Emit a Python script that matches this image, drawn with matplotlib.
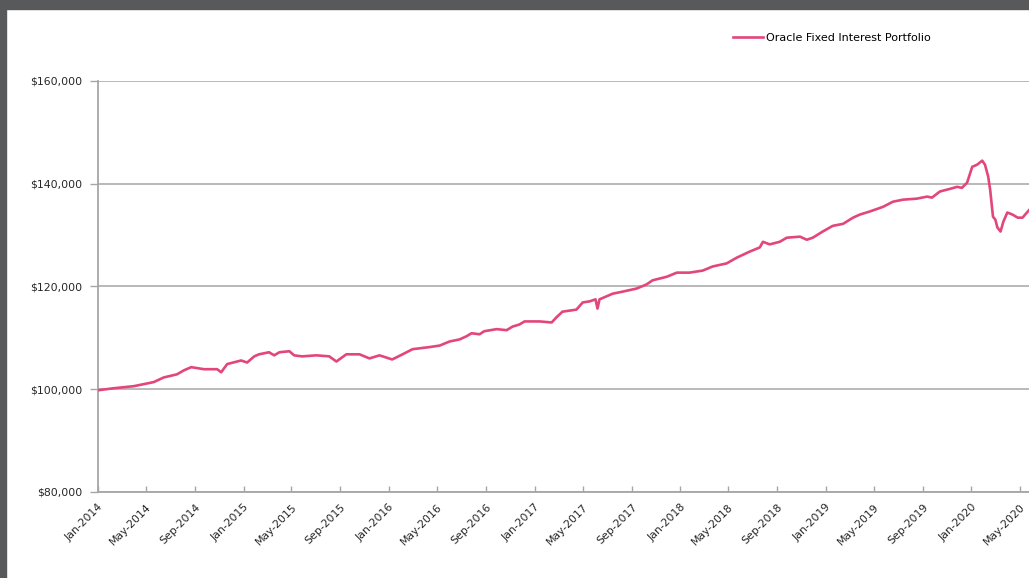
import pandas as pd
import numpy as np
import matplotlib
matplotlib.use('Agg')
import matplotlib.pyplot as plt
import matplotlib.dates as mdates
from matplotlib.patches import Rectangle
from matplotlib.ticker import FuncFormatter

# values (portfolio value in $)
dates = ['2014-01-01', '2014-02-10', '2014-04-01', '2014-05-21', '2014-06-15', '2014-07-18',
         '2014-08-05', '2014-08-23', '2014-09-24', '2014-10-27', '2014-11-06', '2014-11-21',
         '2014-12-26', '2015-01-10', '2015-01-28', '2015-02-09', '2015-03-06', '2015-03-19',
         '2015-04-01', '2015-04-26', '2015-05-08', '2015-05-28', '2015-07-03', '2015-08-04',
         '2015-08-22', '2015-09-16', '2015-10-19', '2015-11-13', '2015-12-08', '2016-01-09',
         '2016-02-04', '2016-02-29', '2016-04-11', '2016-05-07', '2016-06-01', '2016-06-26',
         '2016-07-13', '2016-07-26', '2016-08-15', '2016-08-27', '2016-09-27', '2016-10-22',
         '2016-11-06', '2016-11-23', '2016-12-06', '2017-01-13', '2017-02-12', '2017-02-24',
         '2017-03-11', '2017-04-15', '2017-05-01', '2017-05-18', '2017-06-02', '2017-06-07',
         '2017-06-12', '2017-07-15', '2017-08-09', '2017-09-13', '2017-10-08', '2017-10-23',
         '2017-11-28', '2017-12-23', '2018-01-24', '2018-02-26', '2018-03-23', '2018-04-27',
         '2018-05-22', '2018-06-24', '2018-07-19', '2018-07-27', '2018-08-13', '2018-09-07',
         '2018-09-25', '2018-10-28', '2018-11-14', '2018-11-29', '2018-12-24', '2019-01-18',
         '2019-02-13', '2019-03-10', '2019-03-27', '2019-04-21', '2019-05-24', '2019-06-18',
         '2019-07-13', '2019-08-17', '2019-09-12', '2019-09-24', '2019-10-14', '2019-11-08',
         '2019-11-26', '2019-12-08', '2019-12-21', '2020-01-03', '2020-01-15', '2020-01-28',
         '2020-02-04', '2020-02-12', '2020-02-17', '2020-02-24', '2020-03-01', '2020-03-06',
         '2020-03-14', '2020-03-21', '2020-03-31', '2020-04-13', '2020-04-26', '2020-05-08',
         '2020-05-26']
values = [99800, 100200, 100600, 101400, 102300, 102900,
          103700, 104300, 103900, 103900, 103300, 104900,
          105600, 105200, 106400, 106800, 107200, 106600,
          107200, 107400, 106600, 106400, 106600, 106400,
          105400, 106800, 106800, 106000, 106600, 105800,
          106800, 107800, 108200, 108500, 109300, 109700,
          110300, 110900, 110700, 111300, 111700, 111500,
          112200, 112600, 113200, 113200, 113000, 114000,
          115100, 115500, 116900, 117100, 117500, 115700,
          117500, 118600, 119000, 119600, 120400, 121200,
          121900, 122700, 122700, 123100, 123900, 124500,
          125600, 126800, 127600, 128700, 128200, 128700,
          129500, 129700, 129100, 129500, 130700, 131800,
          132200, 133400, 134000, 134600, 135500, 136500,
          136900, 137100, 137500, 137300, 138500, 139000,
          139400, 139200, 140200, 143300, 143700, 144500,
          143700, 141400, 138800, 133600, 133000, 131500,
          130700, 132600, 134400, 134000, 133400, 133400,
          135000]
series_name = 'Oracle Fixed Interest Portfolio'

t = pd.to_datetime(dates)

fig = plt.figure(figsize=(10.29, 5.78), dpi=100)
# dark frame on top and left edge
fig.patches.append(Rectangle((0, 1 - 9/578), 1, 9/578, transform=fig.transFigure,
                             color='#58595b', zorder=0))
fig.patches.append(Rectangle((0, 0), 6/1029, 1, transform=fig.transFigure,
                             color='#58595b', zorder=0))

ax = fig.add_axes([98/1029, 86/578, 946/1029, 411/578])
ax.plot(t, values, color='#e2467b', lw=1.9, label=series_name, zorder=3)

ax.set_xlim(pd.Timestamp('2014-01-01'), pd.Timestamp('2020-07-01'))
ax.set_ylim(80000, 160000)
ax.set_yticks([80000, 100000, 120000, 140000, 160000])
ax.yaxis.set_major_formatter(FuncFormatter(lambda v, p: '${:,.0f}'.format(v)))
ax.grid(axis='y', color='#b3b3b3', lw=1.3)
ax.set_axisbelow(True)

ax.xaxis.set_major_locator(mdates.MonthLocator(bymonth=[1, 5, 9]))
ax.xaxis.set_major_formatter(mdates.DateFormatter('%b-%Y'))
for lab in ax.get_xticklabels():
    lab.set_rotation(45)
    lab.set_ha('right')
    lab.set_rotation_mode('anchor')

for s in ['top', 'right']:
    ax.spines[s].set_visible(False)
for s in ['left', 'bottom']:
    ax.spines[s].set_color('#a6a6a6')
    ax.spines[s].set_linewidth(1.3)
ax.tick_params(axis='y', direction='out', length=6, width=1, color='#a6a6a6',
               labelsize=7.8, pad=5, labelcolor='#262626')
ax.tick_params(axis='x', direction='in', length=4, width=1, color='#a6a6a6',
               labelsize=7.8, pad=7, labelcolor='#262626')

fig.legend(loc='center left', bbox_to_anchor=(729/1029, 1 - 38/578), frameon=False,
           fontsize=8, handlelength=2.7, handletextpad=0.25, borderaxespad=0)

fig.savefig('out.png', dpi=100)
